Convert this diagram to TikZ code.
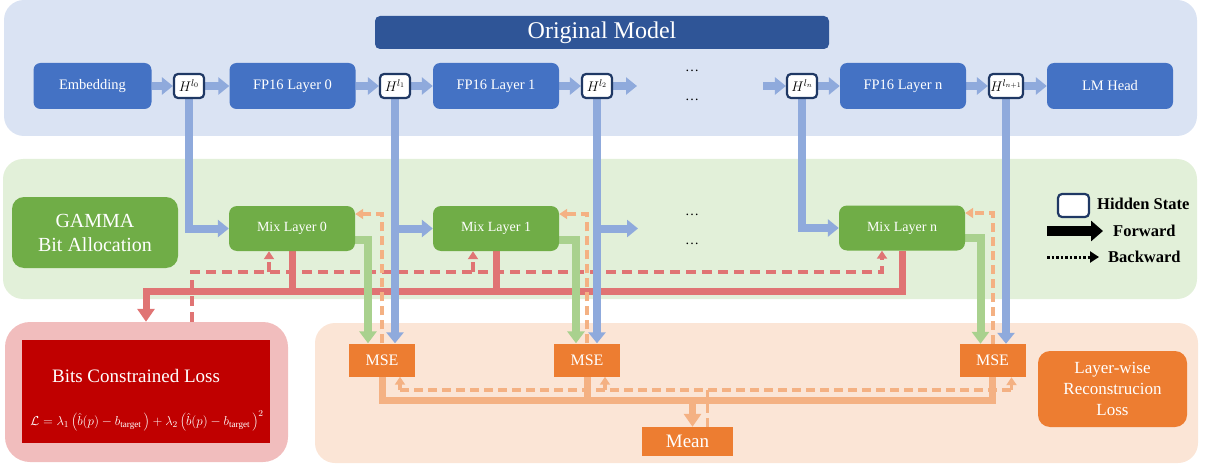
\RequirePackage{fix-cm}
\documentclass[tikz,border=0pt]{standalone}
\usepackage{fontspec}
\setmainfont{Liberation Serif}
\usetikzlibrary{arrows.meta}
\definecolor{topbg}{HTML}{DAE3F3}
\definecolor{titleblue}{HTML}{2F5597}
\definecolor{boxblue}{HTML}{4472C4}
\definecolor{flowblue}{HTML}{8FAADC}
\definecolor{navy}{HTML}{1F3864}
\definecolor{greenbg}{HTML}{E2F0D9}
\definecolor{boxgreen}{HTML}{70AD47}
\definecolor{flowgreen}{HTML}{A9D18E}
\definecolor{pinkbg}{HTML}{F1BDBD}
\definecolor{lossred}{HTML}{C00000}
\definecolor{flowred}{HTML}{E07474}
\definecolor{peachbg}{HTML}{FBE5D6}
\definecolor{boxorange}{HTML}{ED7D31}
\definecolor{floworange}{HTML}{F4B183}
\pgfdeclarelayer{panels}
\pgfdeclarelayer{lines}
\pgfsetlayers{panels,lines,main}
\begin{document}
\begin{tikzpicture}[x=1pt,y=-1pt,
  panel/.style={fill=#1, draw=none, rounded corners=20pt, inner sep=0pt},
  fpbox/.style={fill=boxblue, text=white, rounded corners=7pt, minimum width=126pt, minimum height=46pt, inner sep=0pt, font=\fontsize{14.5}{17}\selectfont},
  hbox/.style={fill=white, draw=navy, line width=2.2pt, rounded corners=4pt, minimum width=30pt, minimum height=24pt, inner sep=0pt, font=\fontsize{14}{16}\selectfont},
  mixbox/.style={fill=boxgreen, text=white, rounded corners=8pt, minimum width=126pt, minimum height=45pt, inner sep=0pt, font=\fontsize{14}{16}\selectfont},
  msebox/.style={fill=boxorange, text=white, minimum width=66pt, minimum height=33pt, inner sep=0pt, font=\fontsize{16}{18}\selectfont},
  bflow/.style={draw=flowblue, line width=8pt, -{Triangle[width=17pt,length=11pt]}},
  gflow/.style={draw=flowgreen, line width=8pt, -{Triangle[width=17pt,length=12pt]}},
  rline/.style={draw=flowred, line width=7pt},
  rflow/.style={rline, -{Triangle[width=17pt,length=13pt]}},
  rdash/.style={draw=flowred, line width=3.5pt, dash pattern=on 10pt off 6pt},
  rdflow/.style={rdash, -{Triangle[width=10pt,length=8pt]}},
  odash/.style={draw=floworange, line width=3.5pt, dash pattern=on 9pt off 5pt},
  odflow/.style={odash, -{Triangle[width=10pt,length=8pt]}},
  oline/.style={draw=floworange, line width=7pt},
  oflow/.style={oline, -{Triangle[width=17pt,length=13pt]}},
  dotlbl/.style={font=\fontsize{14}{14}\selectfont, inner sep=0pt},
  lgtext/.style={font=\bfseries\fontsize{16.5}{18}\selectfont, inner sep=0pt, anchor=west}
]
\useasboundingbox (0,0) rectangle (1210,468);

\begin{pgfonlayer}{panels}
\node[panel=topbg, minimum width=1193pt, minimum height=136pt] (toppanel) at (600.5,68) {};
\node[panel=greenbg, minimum width=1194pt, minimum height=140pt] (greenpanel) at (600,229) {};
\node[panel=pinkbg, rounded corners=25pt, minimum width=283pt, minimum height=140pt] (pinkpanel) at (146.5,392) {};
\node[panel=peachbg, minimum width=883pt, minimum height=140pt] (peachpanel) at (756.5,393) {};
\end{pgfonlayer}

% title
\node[fill=titleblue, text=white, rounded corners=5pt, minimum width=454pt, minimum height=33pt, inner sep=0pt, font=\fontsize{24}{26}\selectfont] (title) at (602,32.5) {Original Model};

% top row
\node[fpbox, minimum width=118pt] (emb) at (92.5,86) {Embedding};
\node[hbox] (H0) at (189,86) {$H^{l_0}$};
\node[fpbox] (fp0) at (292.5,86) {FP16 Layer 0};
\node[hbox] (H1) at (395,86) {$H^{l_1}$};
\node[fpbox] (fp1) at (496,86) {FP16 Layer 1};
\node[hbox] (H2) at (597,86) {$H^{l_2}$};
\node[dotlbl] (dt1) at (692,71) {\ldots};
\node[dotlbl] (dt2) at (692,100) {\ldots};
\node[hbox] (Hn) at (802,86) {$H^{l_n}$};
\node[fpbox] (fpn) at (903,86) {FP16 Layer n};
\node[hbox, minimum width=34pt] (Hn1) at (1006,86) {$H^{l_{n+1}}$};
\node[fpbox] (lm) at (1110,86) {LM Head};
\coordinate (c1) at (637,86);
\coordinate (c2) at (763,86);

% middle row
\node[fill=boxgreen, text=white, rounded corners=12pt, minimum width=166pt, minimum height=71pt, inner sep=0pt, align=center, font=\fontsize{20}{24}\selectfont] (gamma) at (95,232.5) {GAMMA\\Bit Allocation};
\node[mixbox] (mix0) at (292,228.5) {Mix Layer 0};
\node[mixbox] (mix1) at (496,228.5) {Mix Layer 1};
\node[dotlbl] (dt3) at (692,215) {\ldots};
\node[dotlbl] (dt4) at (692,244) {\ldots};
\node[mixbox] (mixn) at (902,228) {Mix Layer n};
\coordinate (c3) at (638,228.5);

% legend
\node[hbox, minimum width=31pt, minimum height=23pt] (lgH) at (1073.5,205.5) {};
\node[lgtext] (lgHt) at (1097,204) {Hidden State};
\coordinate (fa) at (1047,231);
\coordinate (fb) at (1103,231);
\node[lgtext] (lgF) at (1113,231) {Forward};
\coordinate (ba) at (1047,257);
\coordinate (bb) at (1099,257);
\node[lgtext] (lgB) at (1108,257) {Backward};

% bottom left
\node[fill=lossred, minimum width=248pt, minimum height=103pt, inner sep=0pt] (lossrect) at (146,391.5) {};
\node[text=white, inner sep=0pt, font=\fontsize{19}{21}\selectfont] (losstitle) at (136,376) {Bits Constrained Loss};
\node[text=white, inner sep=0pt, font=\fontsize{13}{15}\selectfont] (formula) at (147,421) {$\mathcal{L}=\lambda_1\left(\hat{b}(p)-b_{\mathrm{target}}\,\right)+\lambda_2\left(\hat{b}(p)-b_{\mathrm{target}}\,\right)^2$};

% bottom right
\node[msebox] (mse1) at (382,360) {MSE};
\node[msebox] (mse2) at (587,360) {MSE};
\node[msebox] (mse3) at (992.5,360.5) {MSE};
\node[fill=boxorange, text=white, minimum width=91pt, minimum height=29pt, inner sep=0pt, font=\fontsize{19}{21}\selectfont] (mean) at (687.5,441.5) {Mean};
\node[fill=boxorange, text=white, rounded corners=12pt, minimum width=149pt, minimum height=76pt, inner sep=0pt, align=center, font=\fontsize{17}{21}\selectfont] (lw) at (1112.5,389) {Layer-wise\\Reconstrucion\\Loss};

\begin{pgfonlayer}{lines}
% red (drawn first, underneath)
\coordinate (rdL) at (192,272);
\coordinate (r0) at ([xshift=-23pt]mix0.south);
\coordinate (r1) at ([xshift=-23pt]mix1.south);
\coordinate (rn) at ([xshift=-20pt]mixn.south);
\draw[rdflow] (rdL |- pinkpanel.north) -- (rdL) -| (rn);
\draw[rdflow] (r0 |- rdL) -- (r0);
\draw[rdflow] (r1 |- rdL) -- (r1);
\coordinate (rL) at (146,291);
\draw[rflow] (mixn.south) |- (rL) -- (rL |- pinkpanel.north);
\draw[rline] (mix0.south) -- (mix0.south |- rL);
\draw[rline] (mix1.south) -- (mix1.south |- rL);

% top row flows
\draw[bflow] (emb) -- (H0);
\draw[bflow] (H0) -- (fp0);
\draw[bflow] (fp0) -- (H1);
\draw[bflow] (H1) -- (fp1);
\draw[bflow] (fp1) -- (H2);
\draw[bflow] (H2) -- (c1);
\draw[bflow] (c2) -- (Hn);
\draw[bflow] (Hn) -- (fpn);
\draw[bflow] (fpn) -- (Hn1);
\draw[bflow] (Hn1) -- (lm);

% hidden states down
\draw[bflow] (H0.south) |- (mix0.west);
\draw[bflow] (H1.south) -- (H1.south |- mse1.north);
\draw[bflow] (H1.south |- mix1.west) -- (mix1.west);
\draw[bflow] (H2.south) -- (H2.south |- mse2.north);
\draw[bflow] (H2.south |- mix1.west) -- (c3);
\draw[bflow] (Hn.south) |- (mixn.west);
\draw[bflow] (Hn1.south) -- (Hn1.south |- mse3.north);

% green outputs
\coordinate (g0) at ([xshift=-14pt]mse1.north);
\coordinate (g1) at ([xshift=-11pt]mse2.north);
\coordinate (gn) at ([xshift=-12pt]mse3.north);
\draw[gflow] ([yshift=-11pt]mix0.east) -| (g0);
\draw[gflow] ([yshift=-11pt]mix1.east) -| (g1);
\draw[gflow] ([yshift=-10pt]mixn.east) -| (gn);

% orange backward to mix layers
\draw[odflow] (mse1.north) |- ([yshift=14.5pt]mix0.east);
\draw[odflow] (mse2.north) |- ([yshift=14.5pt]mix1.east);
\draw[odflow] ([xshift=0.5pt]mse3.north) |- ([yshift=15pt]mixn.east);

% bottom orange
\coordinate (odl) at (0,390);
\coordinate (oL) at (0,400);
\coordinate (e1) at ([xshift=18pt]mse1.south);
\coordinate (e2) at ([xshift=18pt]mse2.south);
\coordinate (e3) at ([xshift=19pt]mse3.south);
\coordinate (mA) at ([xshift=5pt]mean.north);
\coordinate (mB) at ([xshift=20pt]mean.north);
\draw[odash] (e1 |- odl) -- (e3 |- odl);
\draw[odflow] (e1 |- odl) -- (e1);
\draw[odflow] (e2 |- odl) -- (e2);
\draw[odflow] (e3 |- odl) -- (e3);
\draw[odash] (mB) -- (mB |- odl);
\draw[oline] (mse1.south) |- (oL -| mse3.south) -- (mse3.south);
\draw[oline] (mse2.south) -- (mse2.south |- oL);
\draw[oflow] (mA |- oL) -- (mA);

% legend arrows
\draw[line width=10pt, -{Triangle[width=20pt,length=12pt]}] (fa) -- (fb);
\draw[line width=3pt, dash pattern=on 2.5pt off 2pt, -{Triangle[width=11pt,length=9pt]}] (ba) -- (bb);
\end{pgfonlayer}
\end{tikzpicture}
\end{document}
